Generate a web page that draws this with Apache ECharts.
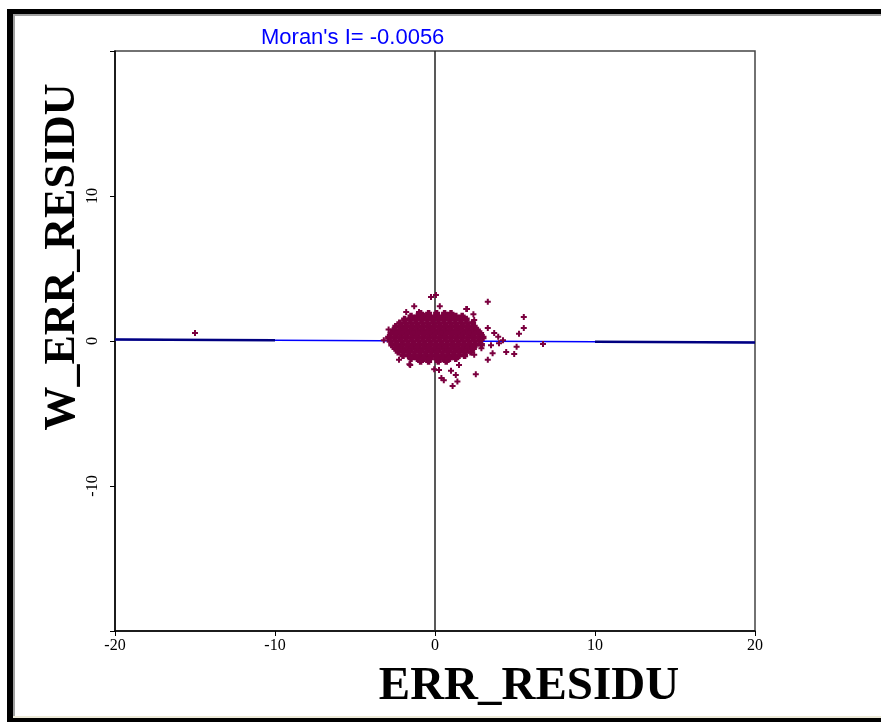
<!DOCTYPE html>
<html><head><meta charset="utf-8">
<script src="https://cdn.jsdelivr.net/npm/echarts@6/dist/echarts.min.js"></script>
<style>html,body{margin:0;padding:0;background:#fff;} #c{width:881px;height:722px;}</style>
</head><body><div id="c"></div>
<script>
// ---- data ----
const titleText = "Moran's I= -0.0056";
const xName = 'ERR_RESIDU';
const yName = 'W_ERR_RESIDU';
const xTickLabels = ['-20', '-10', '0', '10', '20'];
const yTickLabels = ['-10', '0', '10'];

// dense core of the residual cloud, row by row (y value, then the x values in that row)
const clusterRowY = [1.9, 1.7, 1.5, 1.25, 1.0, 0.75, 0.5, 0.25, 0, -0.25, -0.5, -0.75, -1.0, -1.2, -1.4];
const clusterRowX = [
  [-0.9, -0.4, 0.1, 0.6, 1.0],
  [-1.5, -1.1, -0.7, -0.3, 0.1, 0.5, 0.9, 1.3, 1.7],
  [-1.9, -1.55, -1.2, -0.85, -0.5, -0.15, 0.2, 0.55, 0.9, 1.25, 1.6, 1.95],
  [-2.2, -1.85, -1.5, -1.15, -0.8, -0.45, -0.1, 0.25, 0.6, 0.95, 1.3, 1.65, 2.0, 2.35],
  [-2.45, -2.1, -1.75, -1.4, -1.05, -0.7, -0.35, 0, 0.35, 0.7, 1.05, 1.4, 1.75, 2.1, 2.45],
  [-2.6, -2.25, -1.9, -1.55, -1.2, -0.85, -0.5, -0.15, 0.2, 0.55, 0.9, 1.25, 1.6, 1.95, 2.3, 2.65],
  [-2.75, -2.4, -2.05, -1.7, -1.35, -1.0, -0.65, -0.3, 0.05, 0.4, 0.75, 1.1, 1.45, 1.8, 2.15, 2.5, 2.85],
  [-2.9, -2.55, -2.2, -1.85, -1.5, -1.15, -0.8, -0.45, -0.1, 0.25, 0.6, 0.95, 1.3, 1.65, 2.0, 2.35, 2.7, 3.0],
  [-2.8, -2.45, -2.1, -1.75, -1.4, -1.05, -0.7, -0.35, 0, 0.35, 0.7, 1.05, 1.4, 1.75, 2.1, 2.45, 2.8],
  [-2.7, -2.35, -2.0, -1.65, -1.3, -0.95, -0.6, -0.25, 0.1, 0.45, 0.8, 1.15, 1.5, 1.85, 2.2, 2.55, 2.9],
  [-2.5, -2.15, -1.8, -1.45, -1.1, -0.75, -0.4, -0.05, 0.3, 0.65, 1.0, 1.35, 1.7, 2.05, 2.4],
  [-2.3, -1.95, -1.6, -1.25, -0.9, -0.55, -0.2, 0.15, 0.5, 0.85, 1.2, 1.55, 1.9, 2.25],
  [-2.0, -1.65, -1.3, -0.95, -0.6, -0.25, 0.1, 0.45, 0.8, 1.15, 1.5, 1.85],
  [-1.5, -1.1, -0.7, -0.3, 0.1, 0.5, 0.9, 1.3],
  [-0.9, -0.4, 0.2, 0.7]
];

// scattered residuals around the cloud
const outlierPoints = [
  [-15, 0.55],
  [0.06, 3.17], [-0.25, 3.03], [3.3, 2.7], [-1.3, 2.4], [0.3, 2.4], [2.0, 2.2], [1.95, 2.2],
  [2.4, 1.85], [2.45, 1.45], [-1.8, 2.0], [-1.0, 2.0],
  [5.55, 1.65], [5.55, 0.9], [5.25, 0.5], [6.75, -0.2], [5.1, -0.4], [4.45, -0.75], [4.95, -0.9],
  [3.95, 0.3], [4.25, 0.05], [3.6, -0.85], [3.3, -1.3], [3.3, 0.9], [3.7, 0.55], [2.9, 0.4],
  [4.0, -0.15], [3.5, -0.3], [2.9, -0.5], [2.45, -0.95],
  [2.55, -2.3], [1.1, -3.1], [1.4, -2.8], [0.4, -2.55], [1.0, -2.05], [-0.05, -1.95], [1.5, -1.65],
  [-1.55, -1.65], [0.25, -2.0], [1.3, -2.35], [0.55, -2.7],
  [-3.2, 0.05], [-2.9, 0.8], [-2.1, -0.3], [-2.25, -1.3], [-1.6, -1.6]
];

const zeroLine = [[0, -20], [0, 20]];
const regressionLine = [[-20, 0.11], [20, -0.11]];
const regressionLeftSeg = [[-20, 0.11], [-10, 0.056]];
const regressionRightSeg = [[10, -0.056], [20, -0.11]];

// ---- build ----
const clusterPoints = [];
clusterRowY.forEach((y, i) => clusterRowX[i].forEach(x => clusterPoints.push([x, y])));

const maroon = '#7b003f';
const plusThin = 'path://M2 0H4V2H6V4H4V6H2V4H0V2H2Z';
const plusFat = 'path://M1 0H3V1H4V3H3V4H1V3H0V1H1Z';

const chart = echarts.init(document.getElementById('c'), null, {renderer: 'canvas'});
chart.setOption({
  animation: false,
  backgroundColor: '#ffffff',
  title: {
    text: titleText,
    left: 256, top: 22,
    textStyle: {color: '#0000ff', fontSize: 22, fontWeight: 'normal', fontFamily: 'Liberation Sans'}
  },
  grid: {left: 115, top: 51, width: 640, height: 580, show: true, borderColor: '#444', borderWidth: 1.5, backgroundColor: 'transparent'},
  xAxis: {
    type: 'value', min: -20, max: 20, interval: 10,
    splitLine: {show: false},
    axisLine: {onZero: false, lineStyle: {color: '#000', width: 1.5}},
    axisTick: {show: true, length: 5, lineStyle: {color: '#000'}},
    axisLabel: {
      margin: 7, color: '#000', fontSize: 16, fontFamily: 'Liberation Serif',
      formatter: v => xTickLabels.includes(String(v)) ? String(v) : ''
    },
    name: xName, nameLocation: 'middle', nameGap: 32, nameMoveOverlap: false,
    nameTextStyle: {color: '#000', fontSize: 47, fontWeight: 'bold', fontFamily: 'Liberation Serif', padding: [0, 0, 0, 188]}
  },
  yAxis: {
    type: 'value', min: -20, max: 20, interval: 10,
    splitLine: {show: false},
    axisLine: {onZero: false, lineStyle: {color: '#000', width: 1.5}},
    axisTick: {show: true, length: 5, lineStyle: {color: '#000'}},
    axisLabel: {
      rotate: 90, margin: 14, color: '#000', fontSize: 16, fontFamily: 'Liberation Serif',
      formatter: v => yTickLabels.includes(String(v)) ? String(v) : ''
    },
    name: yName, nameLocation: 'middle', nameGap: 30, nameMoveOverlap: false,
    nameTextStyle: {color: '#000', fontSize: 44, fontWeight: 'bold', fontFamily: 'Liberation Serif', padding: [0, 0, 0, 168]}
  },
  series: [
    {type: 'line', data: zeroLine, symbol: 'none', lineStyle: {color: '#222', width: 1.5}, z: 1, silent: true},
    {type: 'line', data: regressionLine, symbol: 'none', lineStyle: {color: '#0000ff', width: 1.5}, z: 1, silent: true},
    {type: 'line', data: regressionLeftSeg, symbol: 'none', lineStyle: {color: '#000080', width: 2.5}, z: 1, silent: true},
    {type: 'line', data: regressionRightSeg, symbol: 'none', lineStyle: {color: '#000080', width: 2.5}, z: 1, silent: true},
    {type: 'scatter', data: clusterPoints, symbol: plusFat, symbolSize: 7, itemStyle: {color: maroon, opacity: 1}, z: 3},
    {type: 'scatter', data: outlierPoints, symbol: plusThin, symbolSize: 6, itemStyle: {color: maroon, opacity: 1}, z: 3}
  ],
  graphic: [
    {type: 'rect', shape: {x: 7, y: 9, width: 874, height: 5}, style: {fill: '#000'}},
    {type: 'rect', shape: {x: 7, y: 9, width: 6, height: 713}, style: {fill: '#000'}},
    {type: 'rect', shape: {x: 13, y: 14, width: 2, height: 702}, style: {fill: '#a0a0a0'}},
    {type: 'rect', shape: {x: 13, y: 14, width: 868, height: 2}, style: {fill: '#a0a0a0'}},
    {type: 'rect', shape: {x: 13, y: 716, width: 868, height: 2}, style: {fill: '#ece9d8'}},
    {type: 'rect', shape: {x: 7, y: 718, width: 874, height: 4}, style: {fill: '#000'}}
  ]
});
</script>
</body></html>
